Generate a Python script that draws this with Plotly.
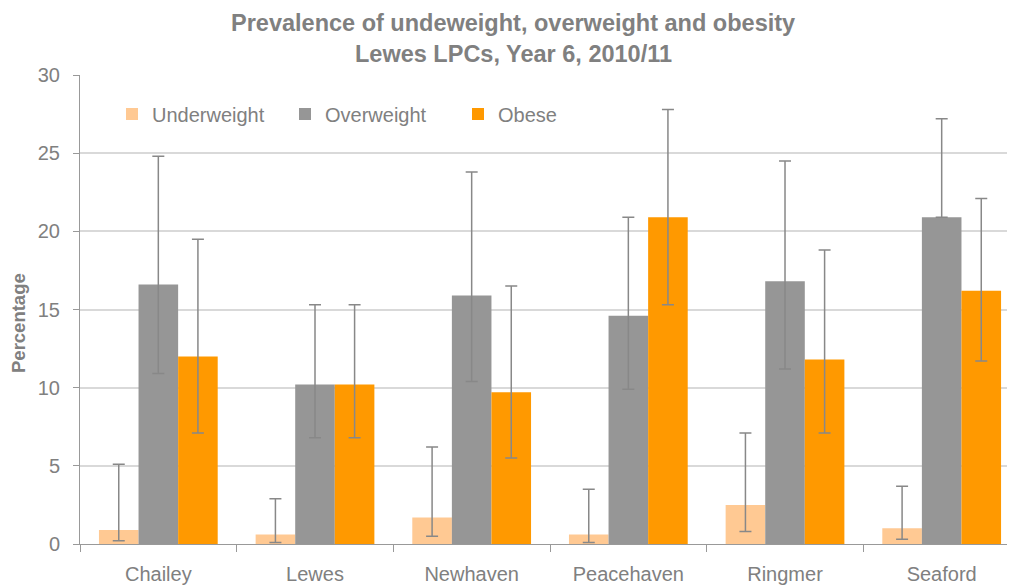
import plotly.graph_objects as go

categories = ["Chailey", "Lewes", "Newhaven", "Peacehaven", "Ringmer", "Seaford"]

underweight = [0.9, 0.6, 1.7, 0.6, 2.5, 1.0]
underweight_lo = [0.2, 0.1, 0.5, 0.1, 0.8, 0.3]
underweight_hi = [5.1, 2.9, 6.2, 3.5, 7.1, 3.7]

overweight = [16.6, 10.2, 15.9, 14.6, 16.8, 20.9]
overweight_lo = [10.9, 6.8, 10.4, 9.9, 11.2, 20.9]
overweight_hi = [24.8, 15.3, 23.8, 20.9, 24.5, 27.2]

obese = [12.0, 10.2, 9.7, 20.9, 11.8, 16.2]
obese_lo = [7.1, 6.8, 5.5, 15.3, 7.1, 11.7]
obese_hi = [19.5, 15.3, 16.5, 27.8, 18.8, 22.1]

title_lines = ["Prevalence of undeweight, overweight and obesity", "Lewes LPCs, Year 6, 2010/11"]

series = [
    ("Underweight", underweight, underweight_lo, underweight_hi, "#FFC993"),
    ("Overweight", overweight, overweight_lo, overweight_hi, "#969696"),
    ("Obese", obese, obese_lo, obese_hi, "#FF9900"),
]

grey = "#808080"
fig = go.Figure()
for name, vals, lo, hi, col in series:
    fig.add_trace(go.Bar(
        name=name, x=categories, y=vals, marker_color=col, marker_line_width=0,
        error_y=dict(type="data", symmetric=False,
                     array=[h - v for h, v in zip(hi, vals)],
                     arrayminus=[v - l for v, l in zip(vals, lo)],
                     color="#888888", thickness=1.5, width=6),
    ))

# plot area (in page pixels): x 80..1015, y 75..544
PW, PH = 935.0, 469.0
annotations = [
    dict(text="<b>%s</b>" % title_lines[0], xref="paper", yref="paper", x=(513 - 80) / PW, y=1 + (75 - 23) / PH,
         xanchor="center", yanchor="middle", showarrow=False, font=dict(size=23.5, color=grey)),
    dict(text="<b>%s</b>" % title_lines[1], xref="paper", yref="paper", x=(513 - 80) / PW, y=1 + (75 - 54) / PH,
         xanchor="center", yanchor="middle", showarrow=False, font=dict(size=23.5, color=grey)),
    dict(text="<b>Percentage</b>", xref="paper", yref="paper", x=-(80 - 18) / PW, y=(544 - 323) / PH,
         xanchor="center", yanchor="middle", textangle=-90, showarrow=False, font=dict(size=18.5, color=grey)),
]

fig.update_layout(
    width=1007, height=577,
    margin=dict(l=72, r=0, t=67, b=41, autoexpand=False),
    paper_bgcolor="white", plot_bgcolor="white",
    barmode="group", bargap=0.242, bargroupgap=0,
    font=dict(family="Liberation Sans, Arial, sans-serif", color=grey),
    annotations=annotations,
    legend=dict(
        orientation="h", x=(112 - 80) / PW, xanchor="left", y=(544 - 114) / PH, yanchor="middle",
        font=dict(size=20, color=grey), bgcolor="rgba(0,0,0,0)",
        entrywidth=128, entrywidthmode="pixels", traceorder="normal",
    ),
    xaxis=dict(
        type="category", range=[-0.5, 5.468], automargin=False,
        showline=True, linecolor="#999999", linewidth=1,
        ticks="outside", tickson="boundaries", ticklen=7, tickcolor="#999999",
        tickfont=dict(size=20, color=grey), showgrid=False, ticklabelstandoff=12,
    ),
    yaxis=dict(
        range=[0, 30], dtick=5, automargin=False,
        showline=True, linecolor="#999999", linewidth=1,
        ticks="outside", ticklen=6, tickcolor="#999999",
        tickfont=dict(size=20, color=grey), ticklabelstandoff=9,
        gridcolor="#D9D9D9", gridwidth=1.5, zeroline=False,
    ),
)

fig.write_html("out.html")
